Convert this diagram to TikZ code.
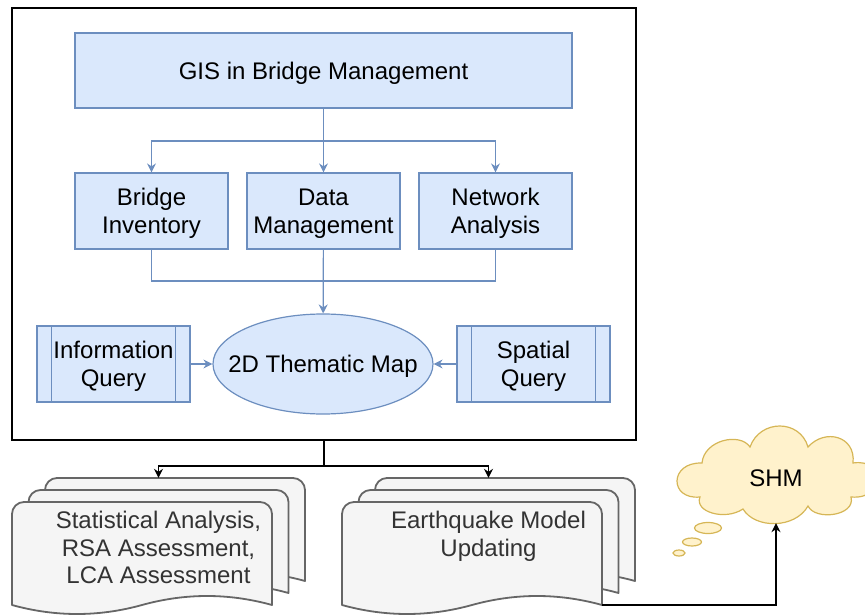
\documentclass[tikz,border=0pt]{standalone}
\usepackage{fontspec}
\setmainfont{Liberation Sans}
\usetikzlibrary{arrows.meta,shapes.geometric}

\definecolor{bfill}{HTML}{DAE8FC}
\definecolor{bline}{HTML}{6C8EBF}
\definecolor{dfill}{HTML}{F5F5F5}
\definecolor{dline}{HTML}{666666}
\definecolor{dtext}{HTML}{333333}
\definecolor{cfill}{HTML}{FFF2CC}
\definecolor{cline}{HTML}{D6B656}

% one sheet of a document stack: left x, top y, width, bottom y
\newcommand\docsheet[4]{%
  \draw[docline] (#1,#4) -- (#1,#2+12)
    .. controls (#1,#2+5.4) and (#1+5.4,#2) .. (#1+12,#2)
    -- (#1+#3-12,#2)
    .. controls (#1+#3-5.4,#2) and (#1+#3,#2+5.4) .. (#1+#3,#2+12)
    -- (#1+#3,#4)
    .. controls (#1+5*#3/6,#4-12) and (#1+2*#3/3,#4-12) .. (#1+#3/2,#4)
    .. controls (#1+#3/3,#4+12) and (#1+#3/6,#4+12) .. (#1,#4) -- cycle;}

\tikzset{
  x=1pt, y=-1pt,
  every node/.style={font=\fontsize{24}{27.6}\selectfont, align=center, inner sep=0pt},
  bluebox/.style={draw=bline, fill=bfill, line width=1.2pt, minimum width=153, minimum height=76},
  procbox/.style={bluebox},
  boxtext/.style={yshift=-2.5pt},
  bluelink/.style={draw=bline, line width=1.2pt},
  bluearrow/.style={bluelink, -{Stealth[length=9pt,width=9pt,inset=3pt]}},
  blackarrow/.style={draw=black, line width=1.2pt, -{Stealth[length=9pt,width=9pt,inset=3pt]}},
  docline/.style={draw=dline, fill=dfill, line width=1.8pt, line join=round},
  bubble/.style={draw=cline, fill=cfill, line width=1.2pt, ellipse, minimum width=#1},
}

\begin{document}
\begin{tikzpicture}
\useasboundingbox (0,0) rectangle (865,615);
\clip (0,0) rectangle (865,615);

% outer frame
\node[draw=black, line width=1.3pt, minimum width=624, minimum height=432] (outer) at (324,224) {};

% top level and its three modules
\node[bluebox, minimum width=497, minimum height=75] (gis) at (323.5,70.5) {};
\node[bluebox] (inv) at (151.5,211) {};
\node[bluebox] (dm) at (323.5,211) {};
\node[bluebox] (na) at (495.5,211) {};
\node[boxtext] at (gis) {GIS in Bridge Management};
\node[boxtext] at (inv) {Bridge\\Inventory};
\node[boxtext] at (dm) {Data\\Management};
\node[boxtext] at (na) {Network\\Analysis};

% thematic map and the two query processes
\node[draw=bline, fill=bfill, line width=1.2pt, ellipse, minimum width=220, minimum height=100] (map) at (323,364) {};
\node[boxtext] at (map) {2D Thematic Map};
\node[procbox] (iq) at (113.5,364) {};
\node[procbox] (sq) at (533.5,364) {};
\draw[bluelink] ([xshift=15]iq.north west) -- ([xshift=15]iq.south west);
\draw[bluelink] ([xshift=-15]iq.north east) -- ([xshift=-15]iq.south east);
\draw[bluelink] ([xshift=15]sq.north west) -- ([xshift=15]sq.south west);
\draw[bluelink] ([xshift=-15]sq.north east) -- ([xshift=-15]sq.south east);
\node[boxtext] at (iq) {Information\\Query};
\node[boxtext] at (sq) {Spatial\\Query};

% connectors inside the frame
\coordinate (split) at (323.5,141);
\coordinate (join) at (323.5,281);
\draw[bluearrow] (gis) -- (dm);
\draw[bluearrow] (split) -| (inv);
\draw[bluearrow] (split) -| (na);
\draw[bluelink] (inv.south) |- (join);
\draw[bluelink] (na.south) |- (join);
\draw[bluearrow] (dm) -- (map);
\draw[bluearrow] (iq) -- (map);
\draw[bluearrow] (sq) -- (map);

% document stacks
\docsheet{45}{478}{260}{581}
\docsheet{28.5}{490}{260}{593}
\docsheet{12}{502}{260}{605}
\docsheet{375}{478}{260}{581}
\docsheet{358.5}{490}{260}{593}
\docsheet{342}{502}{260}{605}
\node[minimum width=293, minimum height=127] (docL) at (158.5,541.5) {};
\node[minimum width=293, minimum height=127] (docR) at (488.5,541.5) {};
\node[text=dtext, anchor=north] (docLtext) at (158.5,511) {Statistical Analysis,\\RSA Assessment,\\LCA Assessment};
\node[text=dtext, anchor=north] (docRtext) at (488.5,511) {Earthquake Model\\Updating};

% outputs of the frame
\coordinate (fork) at (324,466);
\draw[line width=1.2pt] (outer.south) -- (fork);
\draw[blackarrow] (fork) -| (docL.north);
\draw[blackarrow] (fork) -| (docR.north);

% thought cloud
\draw[draw=cline, fill=cfill, line width=1.2pt]
  (702,463) .. controls (704,440) and (740,432) .. (750,447)
  .. controls (760,419) and (800,419) .. (808,447)
  .. controls (825,428) and (856,436) .. (853,463)
  .. controls (886,458) and (886,500) .. (851,497)
  .. controls (856,516) and (815,521) .. (808,506)
  .. controls (795,529) and (755,529) .. (743,509)
  .. controls (725,521) and (694,512) .. (700,497)
  .. controls (669,500) and (669,462) .. (702,463) -- cycle;
\node[bubble=27, minimum height=11] (b1) at (708,528) {};
\node[bubble=19, minimum height=8] (b2) at (692,542) {};
\node[bubble=12, minimum height=6] (b3) at (679,553) {};
\node[minimum height=90] (shm) at (776,478) {SHM};

\coordinate (docRout) at (602,605);
\draw[blackarrow] (docRout) -| (shm.south);
\end{tikzpicture}
\end{document}
